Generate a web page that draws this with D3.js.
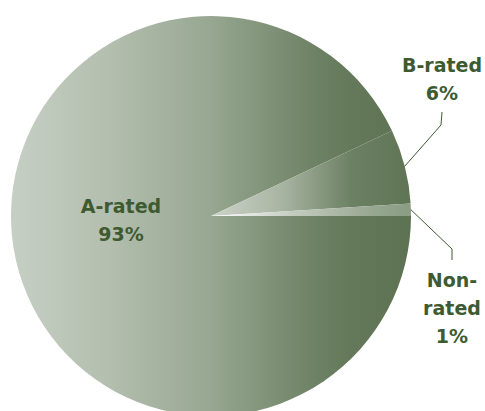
<!DOCTYPE html>
<html>
<head>
<meta charset="utf-8">
<script src="https://cdn.jsdelivr.net/npm/d3@7"></script>
<style>
  body { margin: 0; background: #fff; }
  svg { display: block; }
  .lbl { font-family: "DejaVu Sans", Verdana, sans-serif; font-weight: bold; font-size: 19px; fill: #3d5a31; }
</style>
</head>
<body>
<svg id="chart" width="485" height="411"></svg>
<script>
// data
const categories = ["A-rated", "B-rated", "Non-rated"];
const shares = [93, 6, 1];
const labelLines = [["A-rated", "93%"], ["B-rated", "6%"], ["Non-", "rated", "1%"]];

// layout
const width = 485, height = 411;
const cx = 211, cy = 216, radius = 200;
const lineGap = 28;

let svg = d3.select("#chart");
let defs = svg.append("defs");

// one horizontal gradient per slice (coords local to the pie group)
function addGradient(id, x1, x2, stops) {
    let g = defs.append("linearGradient")
        .attr("id", id)
        .attr("gradientUnits", "userSpaceOnUse")
        .attr("x1", x1).attr("x2", x2)
        .attr("y1", 0).attr("y2", 0);
    stops.forEach(function(s) {
        g.append("stop").attr("offset", s[0]).attr("stop-color", s[1]);
    });
}
addGradient("gradA", -radius, radius,
    [[0, "#c6cfc4"], [0.25, "#b3beae"], [0.5, "#97a791"], [0.75, "#6f8366"], [0.85, "#637959"], [1, "#5c7252"]]);
addGradient("gradB", 0, radius,
    [[0, "#ccd3c8"], [0.35, "#a9b5a3"], [0.7, "#6c8163"], [1, "#5e7455"]]);
addGradient("gradN", 0, radius,
    [[0, "#ffffff"], [0.4, "#c5cdc1"], [0.8, "#98a891"], [1, "#8a9c83"]]);
const fills = ["url(#gradA)", "url(#gradB)", "url(#gradN)"];

let pie = d3.pie()
    .sort(null)
    .startAngle(Math.PI / 2)
    .endAngle(Math.PI / 2 + 2 * Math.PI);
let arcs = pie(shares);

let arc = d3.arc().innerRadius(0).outerRadius(radius);

let g = svg.append("g").attr("transform", "translate(" + cx + "," + cy + ")");

g.selectAll("path.slice")
    .data(arcs)
    .enter()
    .append("path")
    .attr("class", "slice")
    .attr("fill", function(d, i) { return fills[i]; })
    .attr("d", arc);

// label anchors relative to the centre
const labelPos = [
    { x: -90, y: -3 },
    { x: 231, y: -144 },
    { x: 241, y: 71 }
];
// leader elbows for the outside labels
const leaders = [
    null,
    [[230, -91], [231, -104]],
    [[241, 33], [241, 44]]
];

leaders.forEach(function(pts, i) {
    if (!pts) return;
    let a = (arcs[i].startAngle + arcs[i].endAngle) / 2;
    let start = [radius * Math.sin(a), -radius * Math.cos(a)];
    g.append("path")
        .attr("d", d3.line()([start].concat(pts)))
        .attr("fill", "none")
        .attr("stroke", "#3d5a31")
        .attr("stroke-width", 1);
});

labelLines.forEach(function(lines, i) {
    let t = g.append("text")
        .attr("class", "lbl")
        .attr("text-anchor", "middle");
    lines.forEach(function(line, j) {
        t.append("tspan")
            .attr("x", labelPos[i].x)
            .attr("y", labelPos[i].y + j * lineGap)
            .text(line);
    });
});
</script>
</body>
</html>
